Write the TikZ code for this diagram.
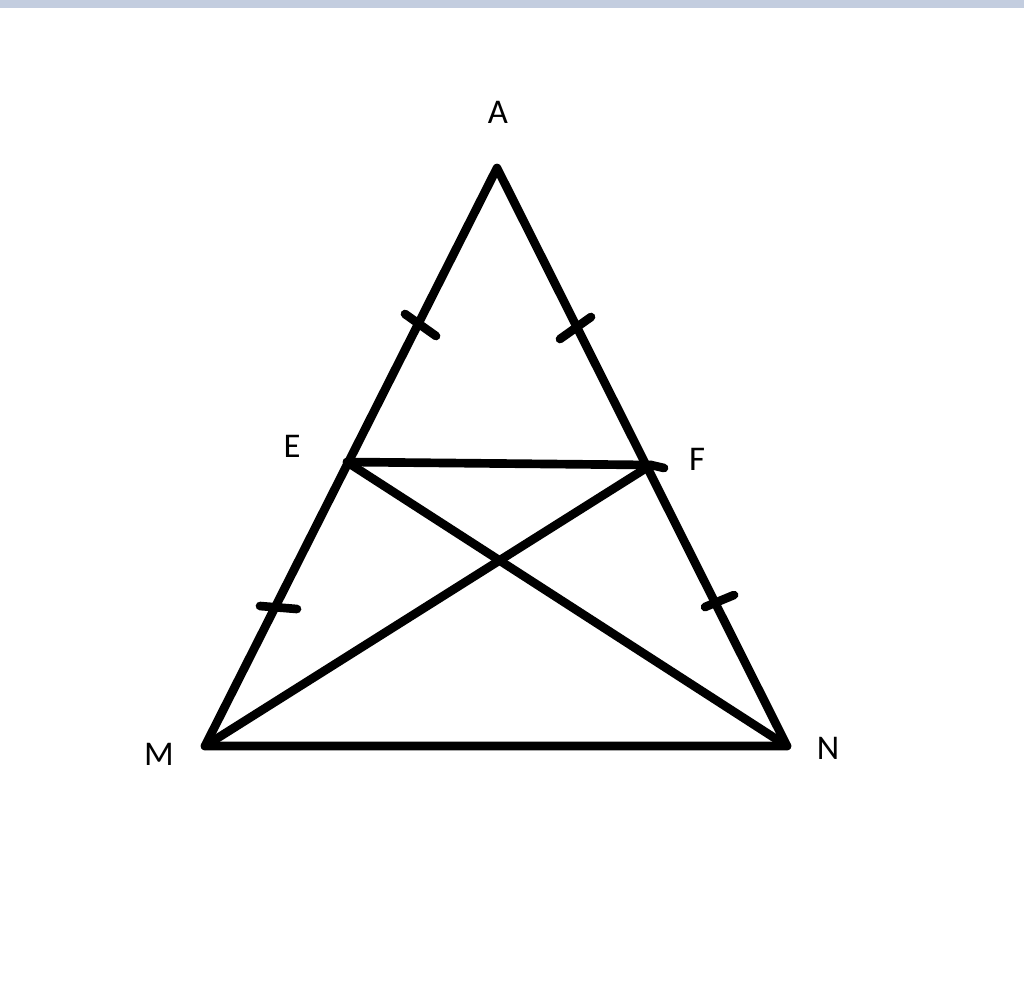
\documentclass[tikz,border=0pt]{standalone}
\usepackage{fontspec}
\setmainfont{Carlito}
\usetikzlibrary{calc}
\definecolor{barblue}{HTML}{C3CDDF}

\begin{document}
\begin{tikzpicture}[
        x=0.75pt, y=-0.75pt,
        every node/.style={font=\fontsize{26}{30}\selectfont},
        side/.style={line width=6.5pt, line cap=round, line join=round},
        tick/.style={line width=6.5pt, line cap=round}
      ]
      \useasboundingbox (0,0) rectangle (1024,982);
      % window bar at the top
      \fill[barblue] (0,0) rectangle (1024,8);

      % vertices and midpoints
      \coordinate (A) at (497,168);
      \coordinate (M) at (205,746);
      \coordinate (N) at (787,746);
      \coordinate (E) at (347,462);
      \coordinate (F) at (651,465);

      % triangle and inner segments
      \draw[side] (A) -- (M) -- (N) -- cycle;
      \draw[side] (E) -- (F);
      \draw[side] (E) -- (N);
      \draw[side] (F) -- (M);
      \draw[tick] (F) -- ++(13,3);

      % equal-length marks
      \draw[tick] (405,314) -- (436,336);
      \draw[tick] (560,339) -- (591,317);
      \draw[tick] (260,606) -- (297,609);
      \draw[tick] (705,607) -- (734,595);

      % labels
      \node (lA) at (498,112) {A};
      \node (lE) at (292,446) {E};
      \node (lF) at (697,459) {F};
      \node (lM) at (159,754) {M};
      \node (lN) at (828,748) {N};
    \end{tikzpicture}
\end{document}
